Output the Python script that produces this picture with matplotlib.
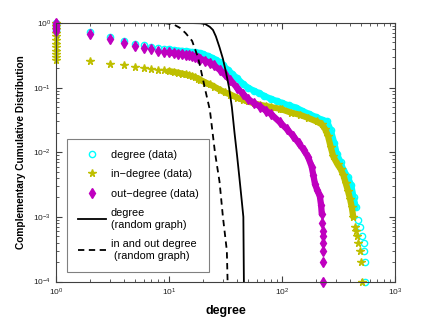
import matplotlib
matplotlib.use('Agg')
import matplotlib.pyplot as plt
import numpy as np

plt.rcParams['font.family'] = ['Liberation Sans', 'DejaVu Sans']
plt.rcParams['mathtext.fontset'] = 'custom'
plt.rcParams['mathtext.rm'] = 'Liberation Sans'

# degree (data), rank style ccdf
deg_x = [1, 1, 1, 1, 1, 1,
         2, 3, 4, 5, 6, 7, 8, 9, 10, 11, 12, 13, 14, 15, 16, 17, 18, 19, 20,
         22, 24, 26, 28, 30, 33, 36, 40, 45, 50, 56, 63, 70, 80, 90, 100,
         115, 134, 150, 175, 200, 225, 250, 270, 290, 305, 330, 350, 380,
         410, 430, 450, 470, 490, 509, 527, 535, 545, 548]
deg_y = [1.0, 0.95, 0.9, 0.85, 0.8, 0.75,
         0.73, 0.61, 0.53, 0.48, 0.45, 0.43, 0.41, 0.40, 0.39, 0.38, 0.375,
         0.37, 0.365, 0.36, 0.355, 0.35, 0.345, 0.34, 0.33,
         0.31, 0.29, 0.27, 0.245, 0.22, 0.19, 0.165, 0.14, 0.115, 0.1, 0.09,
         0.082, 0.074, 0.067, 0.062, 0.058,
         0.053, 0.049, 0.044, 0.039, 0.035, 0.032, 0.03, 0.022, 0.014,
         0.0095, 0.007, 0.0053, 0.0042,
         0.0031, 0.002, 0.0014, 0.0009, 0.0007, 0.0005, 0.0004, 0.0003,
         0.0002, 0.0001]

# in-degree (data)
in_x = [1, 1, 1, 1, 1, 1, 1, 1, 1, 1, 1, 1,
        2, 3, 4, 5, 6, 7, 8, 9, 10, 11, 12, 13, 14, 15, 16, 17, 18, 19,
        21, 23, 25, 28, 31, 35, 40, 45, 50, 57, 64, 72, 80, 96,
        100, 120, 144, 170, 202, 225, 240, 255, 270, 284, 310, 330, 348,
        365, 384, 400, 415, 427, 440, 450, 460, 473, 491, 502, 509]
in_y = [1.0, 0.9, 0.8, 0.7, 0.62, 0.55, 0.48, 0.42, 0.37, 0.33, 0.3, 0.27,
        0.26, 0.235, 0.22, 0.21, 0.2, 0.195, 0.19, 0.185, 0.18, 0.175, 0.17,
        0.165, 0.16, 0.155, 0.15, 0.145, 0.138, 0.131,
        0.12, 0.112, 0.104, 0.093, 0.085, 0.078, 0.07, 0.065, 0.061, 0.057,
        0.054, 0.052, 0.05, 0.047,
        0.046, 0.041, 0.038, 0.034, 0.03, 0.027, 0.023, 0.018, 0.012,
        0.0086, 0.0065, 0.0055, 0.0045,
        0.0034, 0.0025, 0.0019, 0.0014, 0.001, 0.0007, 0.0006, 0.0005,
        0.0004, 0.0003, 0.0002, 0.0001]

# out-degree (data)
out_x = [1, 1, 1, 1, 1, 1,
         2, 3, 4, 5, 6, 7, 8, 9, 10, 11, 12, 13, 14, 15, 16, 17, 18, 19,
         21, 23, 25, 28, 31, 35, 40, 45, 50, 56, 64, 72, 80, 96, 110, 125,
         140, 155, 170, 183, 189, 196, 205, 216, 222, 225, 228, 230, 231,
         232, 232, 232, 232]
out_y = [1.0, 0.95, 0.9, 0.85, 0.8, 0.75,
         0.68, 0.56, 0.49, 0.44, 0.41, 0.39, 0.37, 0.36, 0.35, 0.34, 0.335,
         0.33, 0.32, 0.315, 0.31, 0.3, 0.29, 0.28,
         0.26, 0.24, 0.22, 0.19, 0.16, 0.13, 0.1, 0.08, 0.067, 0.058, 0.051,
         0.044, 0.039, 0.029, 0.023, 0.018,
         0.014, 0.011, 0.0085, 0.006, 0.0045, 0.0032, 0.0026, 0.0021, 0.0015,
         0.0011, 0.0008, 0.0006, 0.0005,
         0.0004, 0.0003, 0.0002, 0.0001]

# random graph curves
rg_x = [1, 10, 15, 19, 21, 23, 24.5, 26, 28, 30, 32, 34, 36, 38, 40, 42,
        44, 45.5, 46]
rg_y = [1, 1, 1, 0.99, 0.96, 0.87, 0.78, 0.62, 0.42, 0.28, 0.17, 0.1, 0.05,
        0.02, 0.009, 0.004, 0.0018, 0.001, 0.0001]
rg_io_x = [1, 9, 11, 12.5, 14, 16, 18, 19, 21, 23, 25.5, 28, 30, 32.5, 33]
rg_io_y = [1, 1, 0.95, 0.84, 0.7, 0.53, 0.3, 0.2, 0.09, 0.045, 0.01,
           0.0035, 0.001, 0.0003, 0.0001]

c_deg = '#00ffff'
c_in = '#bfbf00'
c_out = '#bf00bf'

fig = plt.figure(figsize=(4.36, 3.17), dpi=100)
ax = fig.add_axes([56/436, 1-281.5/317, 339/436, 258.5/317])

def draw(x, y, col, mk, ms, lab, mfc=None):
    x = np.array(x, dtype=float)
    y = np.array(y)
    band = (x >= 10) & (y >= 1e-3)
    ax.plot(x[band], y[band], '-', color=col, lw=4.5,
            solid_capstyle='round', solid_joinstyle='round')
    ax.plot(x, y, mk, color=col, ms=ms, ls='none', label=lab, clip_on=False,
            mfc=mfc if mfc else col, mew=1.0)

draw(deg_x, deg_y, c_deg, 'o', 4.5, 'degree (data)', mfc='none')
draw(in_x, in_y, c_in, '*', 5.5, 'in\u2212degree (data)')
draw(out_x, out_y, c_out, 'd', 5.5, 'out\u2212degree (data)')
ax.plot(rg_x, rg_y, '-', color='k', lw=1.3, label='degree\n(random graph)')
ax.plot(rg_io_x, rg_io_y, '--', color='k', lw=1.3, dashes=(3.5, 2.5),
        label='in and out degree\n (random graph)')

ax.set_xscale('log')
ax.set_yscale('log')
ax.set_xlim(1, 1000)
ax.set_ylim(1e-4, 1)
ax.tick_params(which='both', direction='in', top=True, right=True,
               labelsize=6, colors='#404040', labelcolor='#222222')
ax.tick_params(which='major', length=4)
ax.tick_params(which='minor', length=2)
for s in ax.spines.values():
    s.set_color('#404040')
    s.set_linewidth(0.8)

ax.set_xlabel('degree', fontsize=9, fontweight='bold', labelpad=5)
ax.set_ylabel('Complementary Cumulative Distribution', fontsize=7.3,
              fontweight='bold', labelpad=5)

leg = ax.legend(loc='lower left', bbox_to_anchor=(0.0316, 0.038),
                borderaxespad=0, fontsize=7.8, handlelength=2.6,
                handletextpad=0.45, labelspacing=0.88, borderpad=1.0,
                fancybox=False, edgecolor='#808080', framealpha=1)
leg.get_frame().set_linewidth(0.8)

fig.savefig('out.png', dpi=100)
